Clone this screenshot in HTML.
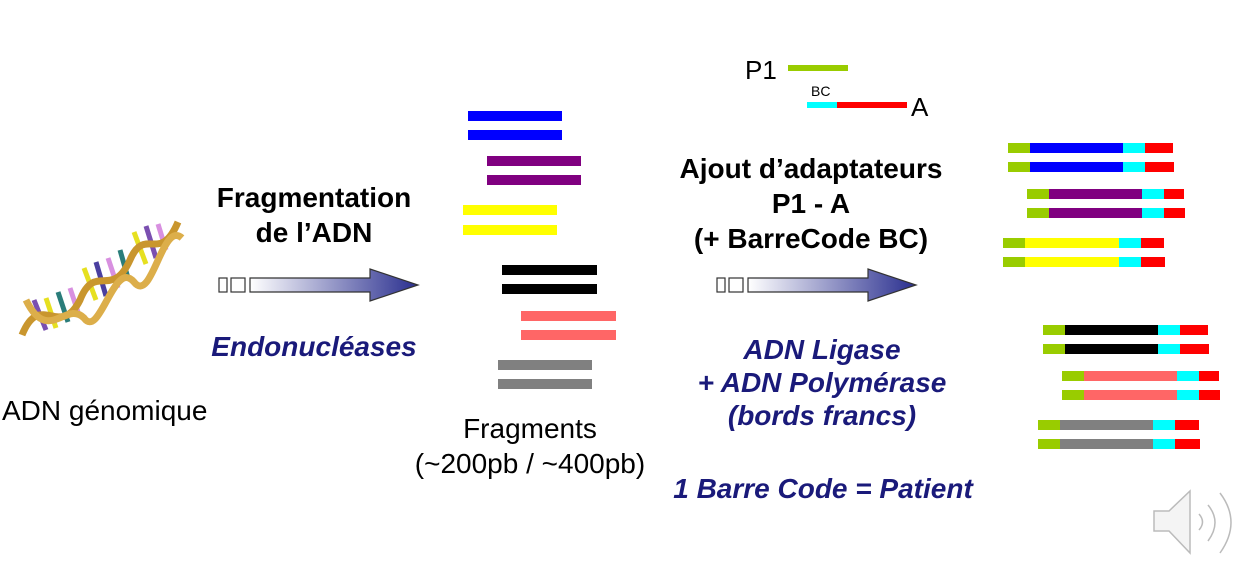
<!DOCTYPE html>
<html><head><meta charset="utf-8"><style>
body{margin:0;background:#fff;width:1256px;height:578px;overflow:hidden}
svg text{font-family:"Liberation Sans",sans-serif}
</style></head><body>
<svg width="1256" height="578" viewBox="0 0 1256 578" xmlns="http://www.w3.org/2000/svg">
<defs>
<linearGradient id="ag" x1="0" x2="1" y1="0" y2="0"><stop offset="0" stop-color="#fff"/><stop offset="1" stop-color="#2a2f8f"/></linearGradient>
<g id="arrow">
<rect x="0" y="3" width="8" height="14" fill="#fff" stroke="#333" stroke-width="1.2"/>
<rect x="12" y="3" width="14" height="14" fill="#fff" stroke="#333" stroke-width="1.2"/>
<path d="M31 3 H151 V-6 L199 10 L151 26 V17 H31 Z" fill="url(#ag)" stroke="#333" stroke-width="1.2"/>
</g>
</defs>
<!-- DNA -->
<g>
<g stroke-width="5">
<line x1="34" y1="300" x2="46" y2="330" stroke="#7a4fb0"/><line x1="46" y1="298" x2="56" y2="328" stroke="#e6e020"/>
<line x1="58" y1="292" x2="68" y2="322" stroke="#2a7d7a"/><line x1="70" y1="288" x2="78" y2="312" stroke="#d890e0"/>
<line x1="84" y1="268" x2="96" y2="300" stroke="#e6e020"/><line x1="96" y1="262" x2="106" y2="296" stroke="#4a3fa0"/>
<line x1="108" y1="258" x2="118" y2="288" stroke="#d890e0"/><line x1="120" y1="250" x2="128" y2="278" stroke="#2a7d7a"/>
<line x1="134" y1="232" x2="146" y2="264" stroke="#e6e020"/><line x1="146" y1="226" x2="156" y2="258" stroke="#7a4fb0"/>
<line x1="158" y1="224" x2="166" y2="250" stroke="#d890e0"/>
</g>
<path d="M22 335 C40 290,60 340,80 300 C95 262,112 300,130 260 C145 225,160 265,178 222" fill="none" stroke="#c9962e" stroke-width="7"/>
<path d="M26 300 C48 345,66 300,84 318 C100 340,114 258,134 282 C152 305,162 220,182 238" fill="none" stroke="#dcae4a" stroke-width="7"/>
</g>
<text x="2" y="420" font-size="28">ADN génomique</text>
<text x="314" y="207" font-size="28" font-weight="bold" text-anchor="middle">Fragmentation</text>
<text x="314" y="242" font-size="28" font-weight="bold" text-anchor="middle">de l’ADN</text>
<use href="#arrow" x="219" y="275"/>
<text x="314" y="356" font-size="28" font-weight="bold" font-style="italic" fill="#1a1a7a" text-anchor="middle">Endonucléases</text>
<!-- fragments -->
<g>
<rect x="468" y="111" width="94" height="10" fill="#0000ff"/><rect x="468" y="130" width="94" height="10" fill="#0000ff"/>
<rect x="487" y="156" width="94" height="10" fill="#800080"/><rect x="487" y="175" width="94" height="10" fill="#800080"/>
<rect x="463" y="205" width="94" height="10" fill="#ffff00"/><rect x="463" y="225" width="94" height="10" fill="#ffff00"/>
<rect x="502" y="265" width="95" height="10" fill="#000"/><rect x="502" y="284" width="95" height="10" fill="#000"/>
<rect x="521" y="311" width="95" height="10" fill="#ff6666"/><rect x="521" y="330" width="95" height="10" fill="#ff6666"/>
<rect x="498" y="360" width="94" height="10" fill="#808080"/><rect x="498" y="379" width="94" height="10" fill="#808080"/>
</g>
<text x="530" y="438" font-size="28" text-anchor="middle">Fragments</text>
<text x="530" y="473" font-size="28" text-anchor="middle">(~200pb / ~400pb)</text>
<!-- adapters -->
<text x="745" y="79" font-size="26">P1</text>
<rect x="788" y="65" width="60" height="6" fill="#99cc00"/>
<text x="811" y="96" font-size="14">BC</text>
<rect x="807" y="102" width="30" height="6" fill="#00ffff"/><rect x="837" y="102" width="70" height="6" fill="#ff0000"/>
<text x="911" y="116" font-size="26">A</text>
<text x="811" y="178" font-size="28" font-weight="bold" text-anchor="middle">Ajout d’adaptateurs</text>
<text x="811" y="213" font-size="28" font-weight="bold" text-anchor="middle">P1 - A</text>
<text x="811" y="248" font-size="28" font-weight="bold" text-anchor="middle">(+ BarreCode BC)</text>
<use href="#arrow" x="717" y="275"/>
<g font-size="28" font-weight="bold" font-style="italic" fill="#1a1a7a" text-anchor="middle">
<text x="822" y="359">ADN Ligase</text>
<text x="822" y="392">+ ADN Polymérase</text>
<text x="822" y="425">(bords francs)</text>
<text x="823" y="498">1 Barre Code = Patient</text>
</g>
<!-- ligated -->
<g>
<g transform="translate(1008,143)"><rect width="22" height="10" fill="#99cc00"/><rect x="22" width="93" height="10" fill="#0000ff"/><rect x="115" width="22" height="10" fill="#00ffff"/><rect x="137" width="28" height="10" fill="#f00"/></g>
<g transform="translate(1008,162)"><rect width="22" height="10" fill="#99cc00"/><rect x="22" width="93" height="10" fill="#0000ff"/><rect x="115" width="22" height="10" fill="#00ffff"/><rect x="137" width="29" height="10" fill="#f00"/></g>
<g transform="translate(1027,189)"><rect width="22" height="10" fill="#99cc00"/><rect x="22" width="93" height="10" fill="#800080"/><rect x="115" width="22" height="10" fill="#00ffff"/><rect x="137" width="20" height="10" fill="#f00"/></g>
<g transform="translate(1027,208)"><rect width="22" height="10" fill="#99cc00"/><rect x="22" width="93" height="10" fill="#800080"/><rect x="115" width="22" height="10" fill="#00ffff"/><rect x="137" width="21" height="10" fill="#f00"/></g>
<g transform="translate(1003,238)"><rect width="22" height="10" fill="#99cc00"/><rect x="22" width="94" height="10" fill="#ffff00"/><rect x="116" width="22" height="10" fill="#00ffff"/><rect x="138" width="23" height="10" fill="#f00"/></g>
<g transform="translate(1003,257)"><rect width="22" height="10" fill="#99cc00"/><rect x="22" width="94" height="10" fill="#ffff00"/><rect x="116" width="22" height="10" fill="#00ffff"/><rect x="138" width="24" height="10" fill="#f00"/></g>
<g transform="translate(1043,325)"><rect width="22" height="10" fill="#99cc00"/><rect x="22" width="93" height="10" fill="#000"/><rect x="115" width="22" height="10" fill="#00ffff"/><rect x="137" width="28" height="10" fill="#f00"/></g>
<g transform="translate(1043,344)"><rect width="22" height="10" fill="#99cc00"/><rect x="22" width="93" height="10" fill="#000"/><rect x="115" width="22" height="10" fill="#00ffff"/><rect x="137" width="29" height="10" fill="#f00"/></g>
<g transform="translate(1062,371)"><rect width="22" height="10" fill="#99cc00"/><rect x="22" width="93" height="10" fill="#ff6666"/><rect x="115" width="22" height="10" fill="#00ffff"/><rect x="137" width="20" height="10" fill="#f00"/></g>
<g transform="translate(1062,390)"><rect width="22" height="10" fill="#99cc00"/><rect x="22" width="93" height="10" fill="#ff6666"/><rect x="115" width="22" height="10" fill="#00ffff"/><rect x="137" width="21" height="10" fill="#f00"/></g>
<g transform="translate(1038,420)"><rect width="22" height="10" fill="#99cc00"/><rect x="22" width="93" height="10" fill="#808080"/><rect x="115" width="22" height="10" fill="#00ffff"/><rect x="137" width="24" height="10" fill="#f00"/></g>
<g transform="translate(1038,439)"><rect width="22" height="10" fill="#99cc00"/><rect x="22" width="93" height="10" fill="#808080"/><rect x="115" width="22" height="10" fill="#00ffff"/><rect x="137" width="25" height="10" fill="#f00"/></g>
</g>
<!-- speaker -->
<g fill="#f4f4f4" stroke="#bbb" stroke-width="1.5">
<path d="M1154 511 H1169 L1190 491 V553 L1169 531 H1154 Z"/>
<path d="M1199 514 Q1206 522 1199 530" fill="none"/>
<path d="M1208 505 Q1222 522 1208 541" fill="none"/>
<path d="M1220 493 Q1242 522 1220 553" fill="none"/>
</g>
</svg>
</body></html>
